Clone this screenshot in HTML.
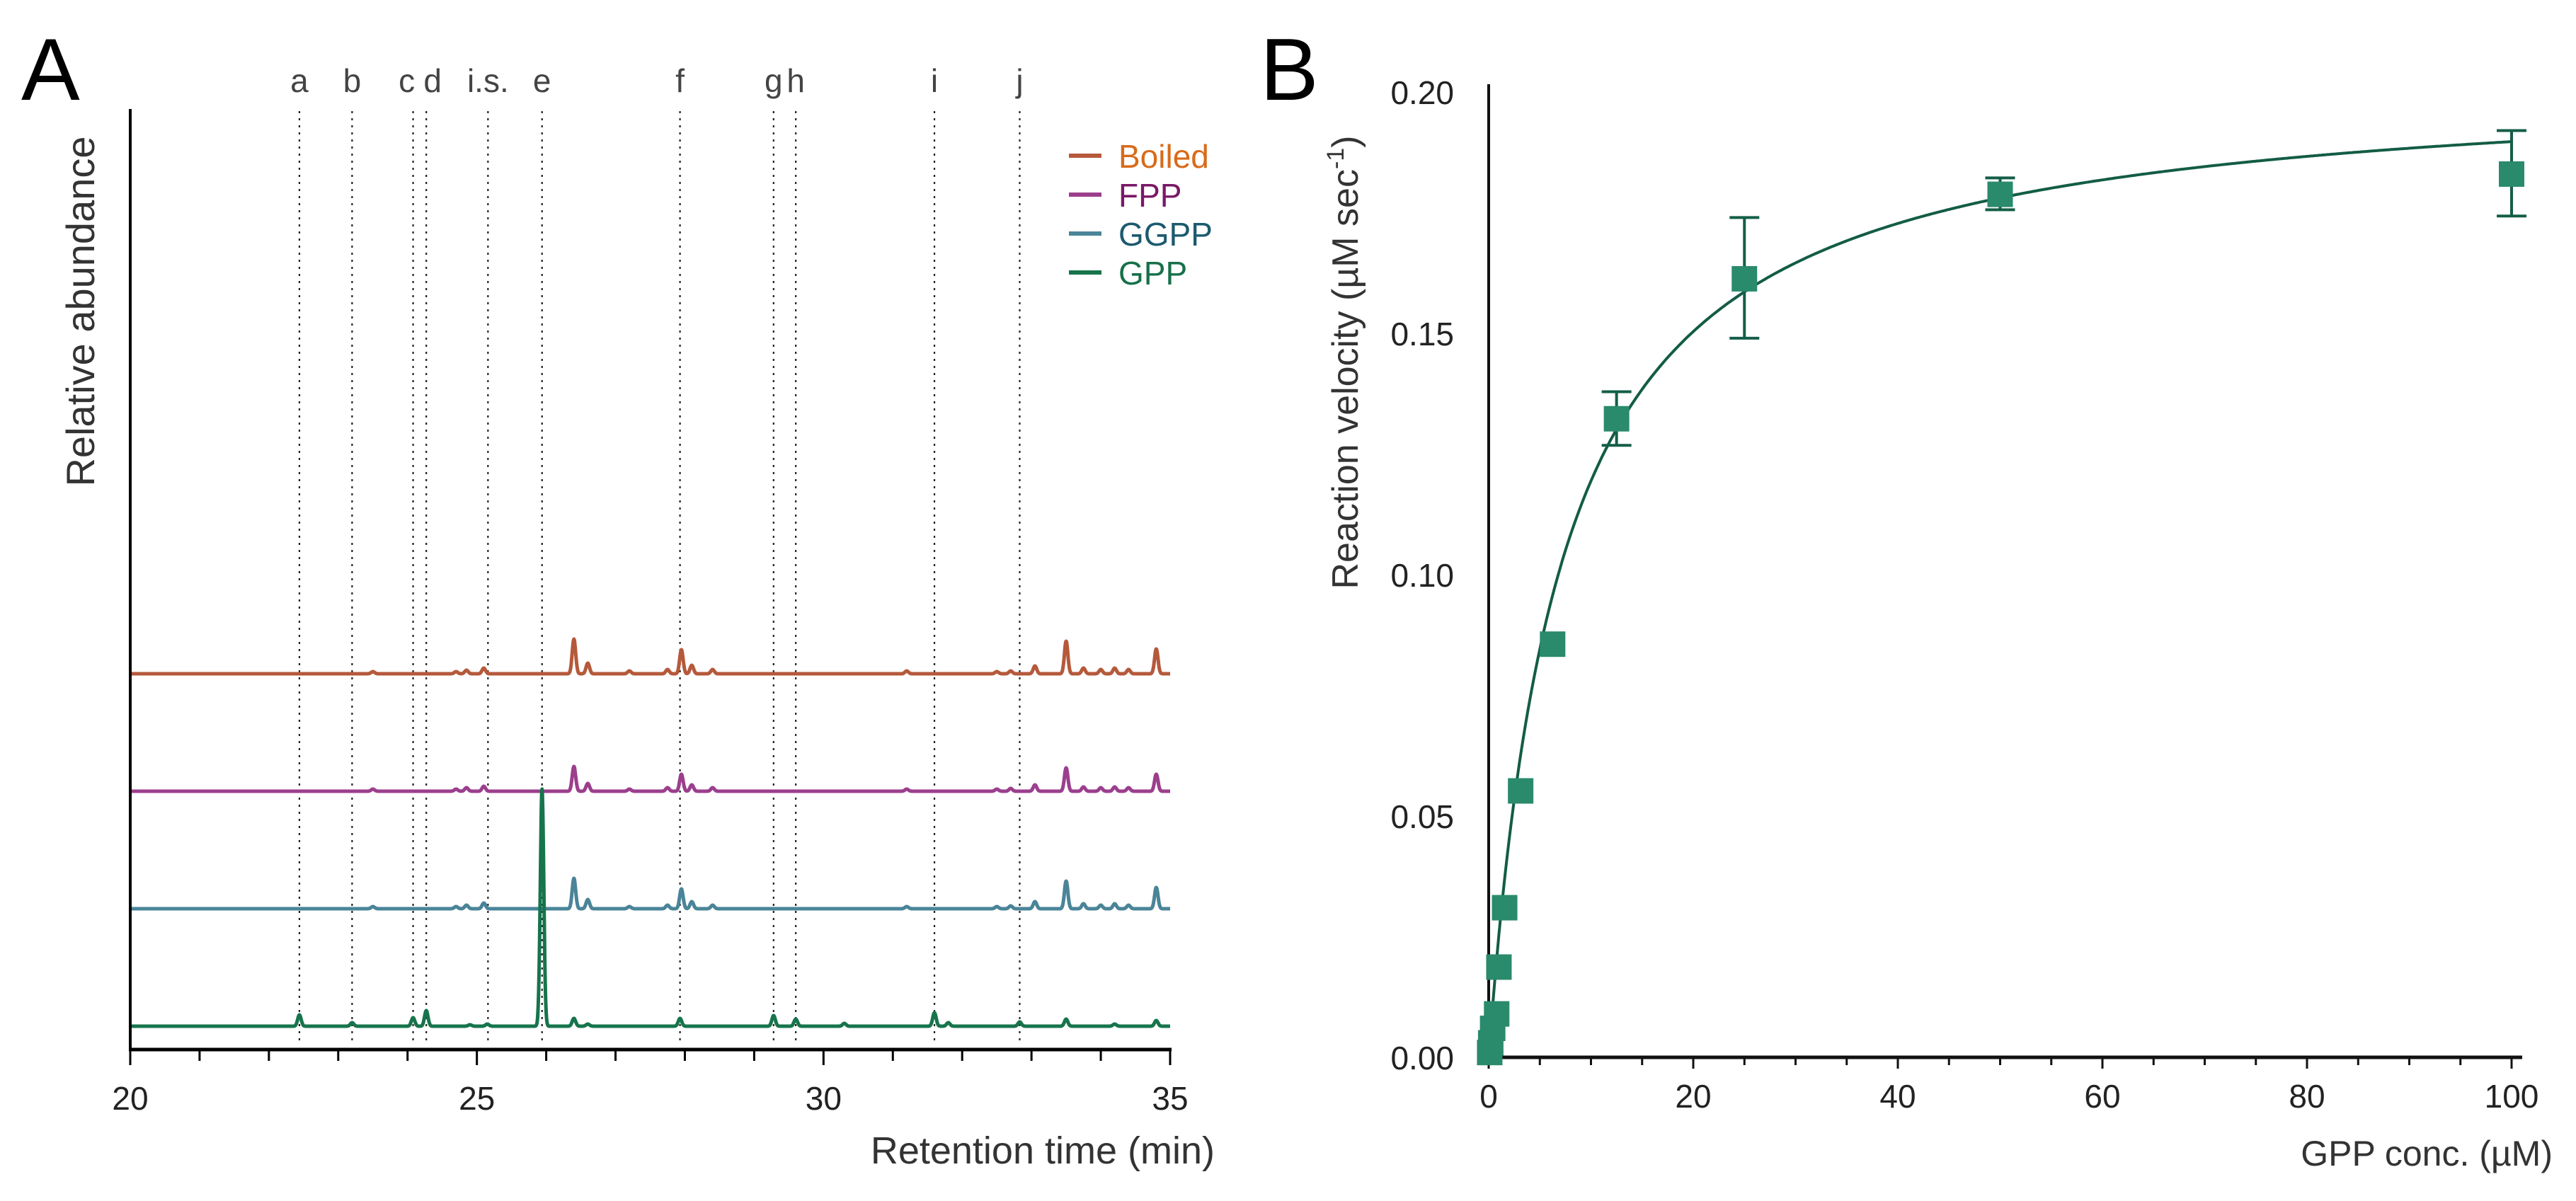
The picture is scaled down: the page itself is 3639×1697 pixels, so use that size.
<!DOCTYPE html>
<html><head><meta charset="utf-8"><style>
html,body{margin:0;padding:0;background:#fff;}
svg{display:block;font-family:"Liberation Sans",sans-serif;}
</style></head><body>
<svg id="fig" width="3639" height="1697" viewBox="0 0 3639 1697" xmlns="http://www.w3.org/2000/svg">
<g id="panelA"></g>
<g id="panelB"></g>
</svg>
<script>
// ---------- Panel A data ----------
const aTicks = [20, 25, 30, 35];
const markerLabels = ["a","b","c","d","i.s.","e","f","g","h","i","j"];
const markerTimes = [22.44, 23.2, 24.08, 24.27, 25.16, 25.94, 27.93, 29.28, 29.6, 31.6, 32.83];
const seriesNames = ["Boiled","FPP","GGPP","GPP"];
const boiledTimes = [23.5,24.7,24.85,25.1,26.4,26.6,27.2,27.75,27.95,28.1,28.4,31.2,32.5,32.7,33.05,33.5,33.75,34.0,34.2,34.4,34.8];
const boiledHeights = [3,3,5,8,49,15,4,6,34,12,6,4,3,4,11,46,8,6,8,6,35];
const fppTimes = [23.5,24.7,24.85,25.1,26.4,26.6,27.2,27.75,27.95,28.1,28.4,31.2,32.5,32.7,33.05,33.5,33.75,34.0,34.2,34.4,34.8];
const fppHeights = [3,3,5,7,35,11,3,5,24,9,5,3,3,4,9,33,6,5,6,5,24];
const ggppTimes = [23.5,24.7,24.85,25.1,26.4,26.6,27.2,27.75,27.95,28.1,28.4,31.2,32.5,32.7,33.05,33.5,33.75,34.0,34.2,34.4,34.8];
const ggppHeights = [3,3,5,8,43,13,3,5,28,10,5,3,3,4,10,39,7,5,7,5,30];
const gppTimes = [22.44,23.2,24.08,24.27,24.9,25.15,25.94,26.4,26.6,27.93,29.28,29.6,30.3,31.6,31.8,32.83,33.5,34.2,34.8];
const gppHeights = [16,5,12,22,2,3,335,11,3,11,15,10,4,19,5,6,10,3,8];
const seriesOffsets = [3, 2, 1, 0]; // stack level

// ---------- Panel B data ----------
const bXTicks = [0,20,40,60,80,100];
const bYTicks = [0.00,0.05,0.10,0.15,0.20];
const bYTickLabels = ["0.00","0.05","0.10","0.15","0.20"];
const concs = [0.1,0.2,0.39,0.78,1.0,1.56,3.125,6.25,12.5,25,50,100];
const rates = [0.001,0.003,0.006,0.009,0.0187,0.031,0.0552,0.0856,0.1323,0.1613,0.1788,0.183];
const errHigh = [0,0,0,0,0,0,0,0,0.1379,0.174,0.1822,0.192];
const errLow = [0,0,0,0,0,0,0,0,0.1268,0.149,0.1756,0.1743];
const fitVmax = [0.203];
const fitKm = [7.0];

const NS="http://www.w3.org/2000/svg";
function mk(parent, tag, attrs, text){const e=document.createElementNS(NS,tag);for(const k in attrs)e.setAttribute(k,attrs[k]);if(text!==undefined)e.textContent=text;parent.appendChild(e);return e;}

// ===== Panel A =====
const A=document.getElementById('panelA');
const ax0=184, ax1=1653, aAxisY=1483, aTop=154;
const xA = t => ax0 + (t-20)/(35-20)*(ax1-ax0);
const baseY0=1450, stackStep=166;
const yA = (level,v) => baseY0 - level*stackStep - v;
const colors=["#b5593b","#9b3f8d","#4a8498","#17744c"];
const textColors=["#d86b1a","#7a1866","#1c5a6e","#17704a"];
const labelNudge={"c":-9,"d":9};

let t=mk(A,'text',{x:30,y:141,'font-size':124,fill:'#000'},'A');

t=mk(A,'text',{x:0,y:0,'font-size':56,fill:'#333',transform:'translate(133,440) rotate(-90)','text-anchor':'middle'},'Relative abundance');


// markers
markerTimes.forEach((m,i)=>{
  const l=mk(A,'line',{x1:xA(m),x2:xA(m),y1:157,y2:1474,stroke:'#222','stroke-width':2.2,'stroke-dasharray':'3 7'});
  
  
  const nx=labelNudge[markerLabels[i]]||0;
  const tx=mk(A,'text',{x:xA(m)+nx,y:130,'font-size':46,fill:'#444','text-anchor':'middle'},markerLabels[i]);
  
  
});

// traces
const allTimes=[boiledTimes,fppTimes,ggppTimes,gppTimes];
const allHeights=[boiledHeights,fppHeights,ggppHeights,gppHeights];
for(let s=0;s<4;s++){
  let d='';
  for(let k=0;k<=3000;k++){
    const tt=20+15*k/3000;
    let v=0;
    allTimes[s].forEach((p,j)=>{const sg=0.025;v+=allHeights[s][j]*Math.exp(-((tt-p)*(tt-p))/(2*sg*sg));});
    d+=(k?'L':'M')+xA(tt).toFixed(1)+' '+yA(seriesOffsets[s],v).toFixed(1);
  }
  const p=mk(A,'path',{d:d,fill:'none',stroke:colors[s],'stroke-width':5,'stroke-linejoin':'round'});
  
  
}

// axes
let ln=mk(A,'line',{x1:ax0,x2:ax0,y1:aTop,y2:aAxisY+2,stroke:'#000','stroke-width':4});

ln=mk(A,'line',{x1:ax0-2,x2:ax1+2,y1:aAxisY,y2:aAxisY,stroke:'#000','stroke-width':5});

for(let m=20;m<=35;m++){
  const tk=mk(A,'line',{x1:xA(m),x2:xA(m),y1:aAxisY,y2:aAxisY+(m%5===0?22:16),stroke:'#000','stroke-width':3});
  
}
aTicks.forEach(v=>{
  const tx=mk(A,'text',{x:xA(v),y:1568,'font-size':46,fill:'#222','text-anchor':'middle'},String(v));
  
});
t=mk(A,'text',{x:1716,y:1644,'font-size':54,fill:'#333','text-anchor':'end'},'Retention time (min)');


// legend
const lgY=[220,275,330,385];
seriesNames.forEach((n,i)=>{
  const g=mk(A,'g',{});
  
  
  mk(g,'line',{x1:1510,x2:1556,y1:lgY[i],y2:lgY[i],stroke:colors[i],'stroke-width':6});
  mk(g,'text',{x:1580,y:lgY[i]+17,'font-size':46,fill:textColors[i]},n);
});

// ===== Panel B =====
const B=document.getElementById('panelB');
const bx0=2103, bx100=3548, bAxisY=1494;
const xB = c => bx0 + c/100*(bx100-bx0);
const yB = v => bAxisY - v*6820;

t=mk(B,'text',{x:1780,y:141,'font-size':124,fill:'#000'},'B');


// y title
t=mk(B,'text',{x:0,y:0,'font-size':52,fill:'#333',transform:'translate(1918,512) rotate(-90)','text-anchor':'middle'});

t.appendChild(document.createTextNode('Reaction velocity (\u00B5M sec'));
mk(t,'tspan',{'font-size':34,dy:-20},'-1');
mk(t,'tspan',{dy:20},')');

ln=mk(B,'line',{x1:bx0,x2:bx0,y1:119,y2:bAxisY,stroke:'#111','stroke-width':4});

ln=mk(B,'line',{x1:bx0-2,x2:3563,y1:bAxisY,y2:bAxisY,stroke:'#111','stroke-width':5});

for(let c=0;c<=100;c+=5){
  const tk=mk(B,'line',{x1:xB(c),x2:xB(c),y1:bAxisY,y2:bAxisY+(c%20===0?16:11),stroke:'#111','stroke-width':3});
  
}
bXTicks.forEach(v=>{
  const tx=mk(B,'text',{x:xB(v),y:1565,'font-size':46,fill:'#222','text-anchor':'middle'},String(v));
  
});
bYTicks.forEach((v,i)=>{
  const tx=mk(B,'text',{x:2054,y:yB(v)+17,'font-size':46,fill:'#222','text-anchor':'end'},bYTickLabels[i]);
  
});
t=mk(B,'text',{x:3606,y:1647,'font-size':50,fill:'#333','text-anchor':'end'},'GPP conc. (\u00B5M)');


// fit curve
let d='';
for(let k=0;k<=500;k++){const c=100*k/500;const v=fitVmax[0]*c/(fitKm[0]+c);d+=(k?'L':'M')+xB(c).toFixed(1)+' '+yB(v).toFixed(1);}
const fc=mk(B,'path',{d:d,fill:'none',stroke:'#135c46','stroke-width':4});


// error bars
concs.forEach((c,i)=>{
  if(errHigh[i]>0){
    const g=mk(B,'g',{stroke:'#145e48','stroke-width':4});
    
    
    mk(g,'line',{x1:xB(c),x2:xB(c),y1:yB(errHigh[i]),y2:yB(errLow[i])});
    mk(g,'line',{x1:xB(c)-21,x2:xB(c)+21,y1:yB(errHigh[i]),y2:yB(errHigh[i])});
    mk(g,'line',{x1:xB(c)-21,x2:xB(c)+21,y1:yB(errLow[i]),y2:yB(errLow[i])});
  }
});
// points
concs.forEach((c,i)=>{
  const r=mk(B,'rect',{x:xB(c)-18,y:yB(rates[i])-18,width:36,height:36,fill:'#2a8a6c'});
  
  
});
</script>
</body></html>
